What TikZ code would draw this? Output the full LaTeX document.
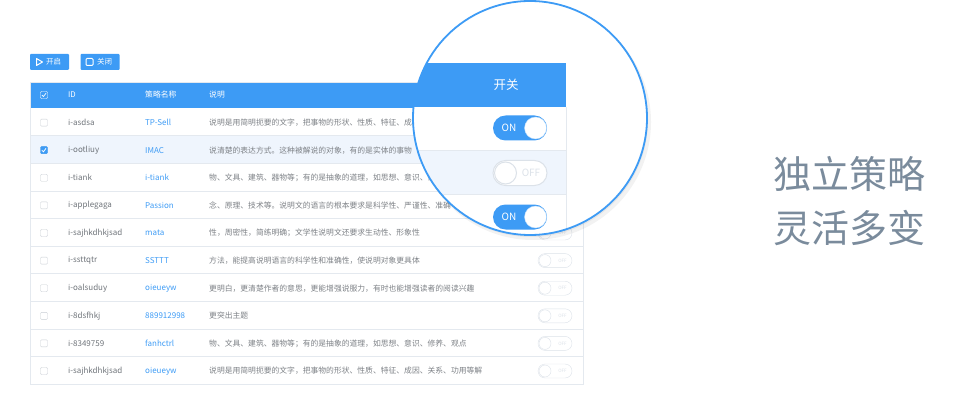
\documentclass[tikz,border=0pt]{standalone}
\usepackage{fontspec}
\setmainfont{Noto Sans CJK SC}
\definecolor{brand}{HTML}{3D9BF5}
\definecolor{rulegray}{HTML}{E4E9EF}
\definecolor{idgray}{HTML}{6E7379}
\definecolor{descgray}{HTML}{7D8186}
\definecolor{boxgray}{HTML}{C9CED4}
\definecolor{knobgray}{HTML}{DCE2E9}
\definecolor{pickrow}{HTML}{EFF5FD}
\definecolor{slogangray}{HTML}{7A8B9C}

\begin{document}
\begin{tikzpicture}[x=1pt, y=-1pt,
    btn/.style ={fill=brand, rounded corners=1pt, minimum width=39pt, minimum height=16pt, inner sep=0pt},
    btntext/.style ={text=white, anchor=west, inner sep=0pt, font=\fontsize{7.5}{8}\selectfont},
    headtext/.style ={text=white, anchor=west, inner sep=0pt, font=\fontsize{7.8}{8}\selectfont},
    idtext/.style ={text=idgray, anchor=west, inner sep=0pt, font=\fontsize{8}{9}\selectfont},
    nametext/.style ={idtext, text=brand},
    desctext/.style ={text=descgray, anchor=west, inner sep=0pt, font=\fontsize{7.8}{9}\selectfont},
    checkbox/.style ={draw=boxgray, fill=white, rounded corners=1pt, minimum size=7pt, inner sep=0pt},
    smallswitch/.style ={draw=knobgray, fill=white, rounded corners=7pt, minimum width=34pt, minimum height=14pt, inner sep=0pt},
    smallknob/.style ={circle, draw=knobgray, fill=white, minimum size=12pt, inner sep=0pt},
    bigswitch/.style ={fill=brand, rounded corners=12.5pt, minimum width=54pt, minimum height=25pt, inner sep=0pt},
    bigknob/.style ={circle, fill=white, draw=brand!35, minimum size=22pt, inner sep=0pt},
    slogan/.style ={text=slogangray, anchor=west, inner sep=0pt, font=\fontsize{38}{40}\selectfont}]
   \useasboundingbox (0,0) rectangle (960,406);
   % toolbar
   \node[btn] (start) at (49.5,62) {};
   \node[btn] (stop) at (100,62) {};
   \draw[white, line width=1pt, line join=round] (36.5,58.5) -- (36.5,65.5) -- (42.5,62) -- cycle;
   \node[btntext] (starttext) at (46,62) {开启};
   \draw[white, line width=1pt, rounded corners=1pt] (86,58.5) rectangle (93,65.5);
   \node[btntext] (stoptext) at (97,62) {关闭};
   % table
   \fill[brand] (30,82) rectangle (583,108);
   \fill[pickrow] (30,135.6) rectangle (583,163.2);
   \node[checkbox, draw=white, fill=none] (headbox) at (44,95) {};
   \draw[white, line width=0.7pt] (41.8,95) -- ++(1.6,1.6) -- ++(2.6,-3.4);
   \node[headtext] (headid) at (68,95) {ID};
   \node[headtext] (headname) at (145,95) {策略名称};
   \node[headtext] (headdesc) at (209,95) {说明};
   \foreach \i in {1,...,9}
      \draw[rulegray] (30,108+27.6*\i) -- (583,108+27.6*\i);
   \draw[rulegray] (30,82) rectangle (583,384);
   \foreach \i/\id/\nm/\desc in {
      1/i-asdsa/TP-Sell/说明是用简明扼要的文字，把事物的形状、性质、特征、成因,
      2/i-ootliuy/IMAC/说清楚的表达方式。这种被解说的对象，有的是实体的事物,
      3/i-tiank/i-tiank/物、文具、建筑、器物等；有的是抽象的道理，如思想、意识、修养,
      4/i-applegaga/Passion/念、原理、技术等。说明文的语言的根本要求是科学性、严谨性、准确,
      5/i-sajhkdhkjsad/mata/性，周密性，简练明确；文学性说明文还要求生动性、形象性,
      6/i-ssttqtr/SSTTT/方法，能提高说明语言的科学性和准确性，使说明对象更具体,
      7/i-oalsuduy/oieueyw/更明白，更清楚作者的意思，更能增强说服力，有时也能增强读者的阅读兴趣,
      8/i-8dsfhkj/889912998/更突出主题,
      9/i-8349759/fanhctrl/物、文具、建筑、器物等；有的是抽象的道理，如思想、意识、修养、观点,
      10/i-sajhkdhkjsad/oieueyw/说明是用简明扼要的文字，把事物的形状、性质、特征、成因、关系、功用等解}
   {
      \node[checkbox] (box\i) at (44,95+27.6*\i) {};
      \node[idtext] (id\i) at (68,95+27.6*\i) {\id};
      \node[nametext] (name\i) at (145,95+27.6*\i) {\nm};
      \node[desctext] (desc\i) at (209,95+27.6*\i) {\desc};
   }
   \node[checkbox, fill=brand, draw=brand] (boxpick) at (box2) {};
   \draw[white, line width=0.8pt] ([xshift=-2.2pt]boxpick.center) -- ++(1.6,1.6) -- ++(2.6,-3.4);
   \foreach \i in {5,...,10}
   {
      \node[smallswitch] (switch\i) at (555,95+27.6*\i) {};
      \node[smallknob] (knob\i) at ([xshift=-10pt]switch\i.center) {};
      \node[text=knobgray, inner sep=0pt, font=\fontsize{4.5}{5}\selectfont] (off\i) at ([xshift=7.5pt]switch\i.center) {OFF};
   }
   % magnifier
   \fill[black, opacity=0.05] (533,122) circle (118);
   \fill[black, opacity=0.05] (531,120) circle (117);
   \begin{scope}
      \clip (530,118) circle (117);
      \fill[white] (410,0) rectangle (650,240);
      \fill[brand] (410,63) rectangle (566,107);
      \fill[pickrow] (410,150) rectangle (566,194);
      \draw[rulegray] (410,150) -- (566,150);
      \draw[rulegray] (410,194) -- (566,194);
      \draw[rulegray] (566,107) -- (566,240);
      \node[text=white, font=\fontsize{12.5}{13}\selectfont] (switchhead) at (506,85) {开关};
      \node[bigswitch] (bigon1) at (520,128) {};
      \node[bigknob] (bigknob1) at ([xshift=15.5pt]bigon1.center) {};
      \node[text=white, inner sep=0pt, font=\fontsize{10}{11}\selectfont] (ontext1) at ([xshift=-11pt]bigon1.center) {ON};
      \node[bigswitch, fill=white, draw=knobgray, line width=1pt] (bigoff) at (520,173) {};
      \node[bigknob, draw=knobgray, line width=1pt] (bigknob2) at ([xshift=-14.5pt]bigoff.center) {};
      \node[text=knobgray, inner sep=0pt, font=\fontsize{10}{11}\selectfont] (offtext) at ([xshift=11pt]bigoff.center) {OFF};
      \node[bigswitch] (bigon2) at (520,217) {};
      \node[bigknob] (bigknob3) at ([xshift=15.5pt]bigon2.center) {};
      \node[text=white, inner sep=0pt, font=\fontsize{10}{11}\selectfont] (ontext2) at ([xshift=-11pt]bigon2.center) {ON};
   \end{scope}
   \draw[brand, line width=1.8pt] (530,118) circle (117);
   % slogan
   \node[slogan] (line1) at (773,174) {独立策略};
   \node[slogan] (line2) at (773,228) {灵活多变};
 \end{tikzpicture}
\end{document}
